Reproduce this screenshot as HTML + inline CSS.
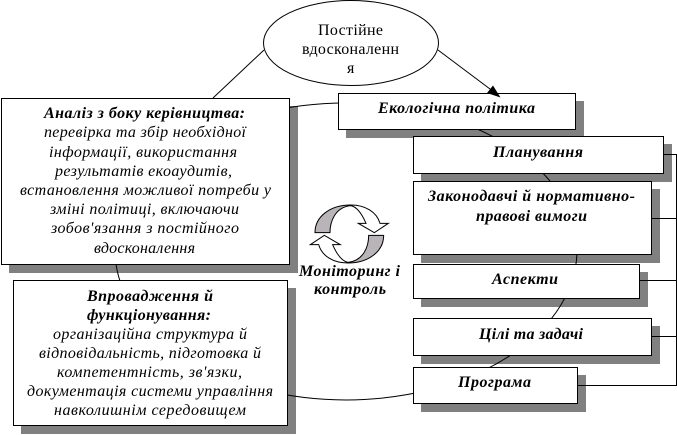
<!DOCTYPE html>
<html>
<head>
<meta charset="utf-8">
<style>
html,body{margin:0;padding:0;background:#fff;width:677px;height:435px;overflow:hidden}
svg{display:block}
text{font-family:"Liberation Serif",serif;font-size:16px;font-style:italic;fill:#000}
.b{font-weight:bold}
.r{font-style:normal}
.s{fill:#808080;stroke:none}
.w{fill:#fff;stroke:#000;stroke-width:1}
.l{fill:none;stroke:#000;stroke-width:1}
</style>
</head>
<body>
<svg width="677" height="435" viewBox="0 0 677 435" xmlns="http://www.w3.org/2000/svg">
<!-- shadows -->
<rect class="s" x="346" y="101" width="238" height="37"/>
<rect class="s" x="421" y="144" width="251" height="38"/>
<rect class="s" x="421" y="189" width="239" height="74"/>
<rect class="s" x="421" y="272" width="227" height="35"/>
<rect class="s" x="421" y="326" width="239" height="38"/>
<rect class="s" x="421" y="375" width="165" height="37"/>
<rect class="s" x="9" y="106" width="289" height="167"/>
<rect class="s" x="21" y="288" width="275" height="146"/>
<!-- large cycle: connectors sit over the shadows, under the boxes -->
<path class="l" d="M115 250A231 147 0 0 1 577 250A231 150 0 0 1 115 250Z"/>
<!-- right bus -->
<path class="l" d="M663 154.5H676.5V385.5H577M651 218.5H676.5M639 280.5H676.5M651 336.5H676.5"/>
<!-- ellipse connectors -->
<path class="l" d="M264 50L213 98"/>
<path class="l" d="M438 50L494 92"/>
<!-- boxes -->
<ellipse class="w" cx="351" cy="43" rx="87.5" ry="42.5"/>
<rect class="w" x="338.5" y="93.5" width="237" height="36"/>
<rect class="w" x="413.5" y="136.5" width="250" height="37"/>
<rect class="w" x="413.5" y="181.5" width="238" height="73"/>
<rect class="w" x="413.5" y="264.5" width="226" height="34"/>
<rect class="w" x="413.5" y="318.5" width="238" height="37"/>
<rect class="w" x="413.5" y="367.5" width="164" height="36"/>
<rect class="w" x="1.5" y="98.5" width="288" height="166"/>
<rect class="w" x="13.5" y="280.5" width="274" height="145"/>
<!-- arrowhead -->
<path d="M500.5 97.5L487 93L493 85.5Z" fill="#000"/>
<!-- cycle arrows -->
<g transform="translate(280 190) scale(.3333)">
<path d="M105 128C105 80 150 45 212 45C160 55 150 95 150 128Z" fill="#b8b4b8" stroke="none"/>
<path d="M105 128C105 80 150 45 212 45C255 45 290 65 300 100H325L283 128L235 100H258C245 70 230 50 212 47C165 52 150 95 150 128Z" fill="none" stroke="#000" stroke-width="3"/>
<g transform="rotate(180 208 132)">
<path d="M105 128C105 80 150 45 212 45C160 55 150 95 150 128Z" fill="#b8b4b8" stroke="none"/>
<path d="M105 128C105 80 150 45 212 45C255 45 290 65 300 100H325L283 128L235 100H258C245 70 230 50 212 47C165 52 150 95 150 128Z" fill="none" stroke="#000" stroke-width="3"/>
</g>
</g>
<!-- ellipse text -->
<text class="r" x="318" y="35" textLength="65" lengthAdjust="spacing">Постійне</text>
<text class="r" x="302" y="54" textLength="97" lengthAdjust="spacing">вдосконаленн</text>
<text class="r" x="347" y="73">я</text>
<!-- right text -->
<text class="b" x="378" y="113" textLength="157" lengthAdjust="spacing">Екологічна політика</text>
<text class="b" x="493" y="157" textLength="90" lengthAdjust="spacing">Планування</text>
<text class="b" x="428" y="201" textLength="207" lengthAdjust="spacing">Законодавчі й нормативно-</text>
<text class="b" x="476" y="221" textLength="111" lengthAdjust="spacing">правові вимоги</text>
<text class="b" x="492" y="284" textLength="66" lengthAdjust="spacing">Аспекти</text>
<text class="b" x="479" y="339" textLength="104" lengthAdjust="spacing">Цілі та задачі</text>
<text class="b" x="458" y="387" textLength="73" lengthAdjust="spacing">Програма</text>
<!-- left box 1 -->
<text class="b" x="44" y="118" textLength="201" lengthAdjust="spacing">Аналіз з боку керівництва:</text>
<text x="44" y="137" textLength="202" lengthAdjust="spacing">перевірка та збір необхідної</text>
<text x="49" y="157" textLength="188" lengthAdjust="spacing">інформації, використання</text>
<text x="55" y="176" textLength="177" lengthAdjust="spacing">результатів екоаудитів,</text>
<text x="20" y="195" textLength="251" lengthAdjust="spacing">встановлення можливої потреби у</text>
<text x="50" y="214" textLength="189" lengthAdjust="spacing">зміні політиці, включаючи</text>
<text x="51" y="233" textLength="188" lengthAdjust="spacing">зобов'язання з постійного</text>
<text x="94" y="253" textLength="101" lengthAdjust="spacing">вдосконалення</text>
<!-- left box 2 -->
<text class="b" x="87" y="301" textLength="126" lengthAdjust="spacing">Впровадження й</text>
<text class="b" x="87" y="320" textLength="124" lengthAdjust="spacing">функціонування:</text>
<text x="53" y="339" textLength="194" lengthAdjust="spacing">організаційна структура й</text>
<text x="39" y="358" textLength="222" lengthAdjust="spacing">відповідальність, підготовка й</text>
<text x="57" y="377" textLength="185" lengthAdjust="spacing">компетентність, зв'язки,</text>
<text x="27" y="396" textLength="246" lengthAdjust="spacing">документація системи управління</text>
<text x="54" y="415" textLength="192" lengthAdjust="spacing">навколишнім середовищем</text>
<!-- center label -->
<text class="b" x="299" y="276" textLength="101" lengthAdjust="spacing">Моніторинг і</text>
<text class="b" x="314" y="294" textLength="72" lengthAdjust="spacing">контроль</text>
</svg>
</body>
</html>
